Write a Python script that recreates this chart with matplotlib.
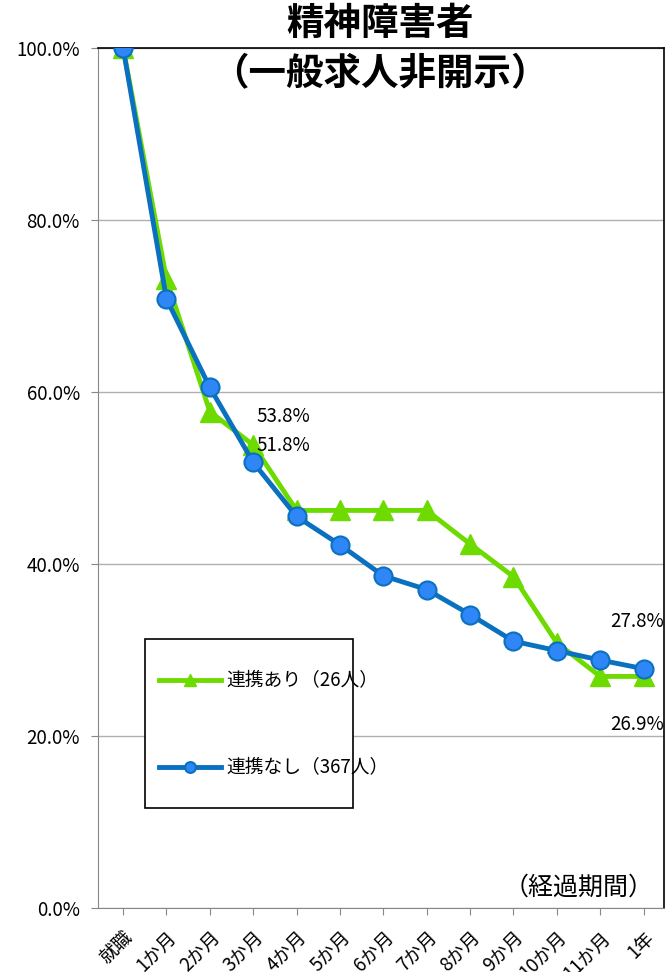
import matplotlib
matplotlib.use('Agg')
import matplotlib.pyplot as plt
from matplotlib.patches import Rectangle
from matplotlib.ticker import FuncFormatter

plt.rcParams['font.family'] = ['Noto Sans CJK JP', 'DejaVu Sans']

months = ['就職', '1か月', '2か月', '3か月', '4か月', '5か月', '6か月',
          '7か月', '8か月', '9か月', '10か月', '11か月', '1年']
renkei_ari = [100.0, 73.1, 57.7, 53.8, 46.2, 46.2, 46.2, 46.2, 42.3, 38.5, 30.8, 26.9, 26.9]
renkei_nashi = [100.0, 70.8, 60.5, 51.8, 45.5, 42.2, 38.6, 37.0, 34.1, 31.0, 29.9, 28.8, 27.8]

green = '#6EDB00'
blue = '#0A70C0'
blue_fill = '#2F86F6'

fig = plt.figure(figsize=(6.66, 9.72), dpi=100)
ax = fig.add_axes([0.147, 0.066, 0.85, 0.885])

x = list(range(len(months)))
ax.plot(x, renkei_ari, color=green, lw=3.5, marker='^', ms=15,
        mfc=green, mec=green, label='連携あり（26人）', zorder=3)
ax.plot(x, renkei_nashi, color=blue, lw=3.5, marker='o', ms=13,
        mfc=blue_fill, mec=blue, mew=1.5, label='連携なし（367人）', zorder=4)

ax.set_ylim(0, 100)
ax.set_xlim(-0.58, 12.47)
ax.set_yticks([0, 20, 40, 60, 80, 100])
ax.yaxis.set_major_formatter(FuncFormatter(lambda v, p: f'{v:.1f}%'))
ax.grid(axis='y', color='#b0b0b0', lw=1)
ax.set_axisbelow(True)
ax.set_xticks(x)
ax.set_xticklabels(months, rotation=45, ha='right', rotation_mode='anchor', fontsize=13.5)
ax.tick_params(axis='y', labelsize=13.5, length=5, color='#888888', pad=8)
ax.tick_params(axis='x', length=5, color='#888888', pad=9)

for side in ['top', 'right']:
    ax.spines[side].set_color('black')
    ax.spines[side].set_linewidth(1.2)
ax.spines['left'].set_color('#888888')
ax.spines['bottom'].set_color('#888888')

# data labels
ax.text(3.69, 57.1, '53.8%', fontsize=13.5, ha='center', va='center')
ax.text(3.69, 53.8, '51.8%', fontsize=13.5, ha='center', va='center')
ax.text(11.85, 33.3, '27.8%', fontsize=13.5, ha='center', va='center')
ax.text(11.85, 21.3, '26.9%', fontsize=13.5, ha='center', va='center')

ax.text(12.22, 2.4, '（経過期間）', fontsize=18, ha='right', va='center')

# legend box drawn by hand, entries placed inside it
ax.add_patch(Rectangle((0.083, 0.116), 0.367, 0.197, transform=ax.transAxes,
                       facecolor='white', edgecolor='black', lw=1.2, zorder=5))
leg = ax.legend(loc='center left', bbox_to_anchor=(0.108, 0.2134),
                fontsize=13.5, frameon=False, labelspacing=3.5,
                handlelength=3.3, handletextpad=0.3, borderpad=0,
                borderaxespad=0, markerscale=0.6)
leg.set_zorder(6)

fig.text(0.57, 0.976, '精神障害者', fontsize=27, fontweight='bold', ha='center', va='center')
fig.text(0.57, 0.924, '（一般求人非開示）', fontsize=27, fontweight='bold', ha='center', va='center')

fig.savefig('out.png', dpi=100)
